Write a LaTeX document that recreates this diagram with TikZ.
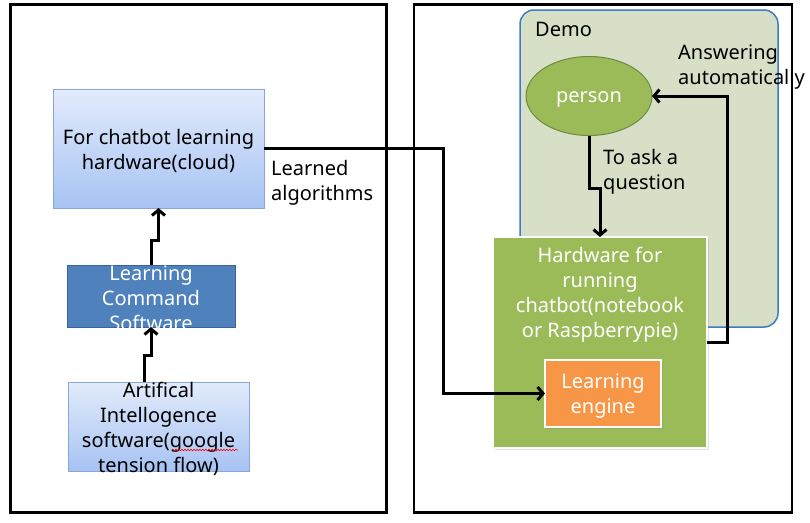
\documentclass[tikz,border=0pt]{standalone}
\usepackage{fontspec}
\setmainfont{Noto Sans}
\usetikzlibrary{arrows.meta,shapes.geometric,decorations.pathmorphing,shadows}
\definecolor{bluetop}{HTML}{E2EBFB}
\definecolor{bluebot}{HTML}{A7C3F3}
\definecolor{blueedge}{HTML}{8AA6D6}
\definecolor{lcsfill}{HTML}{4F81BD}
\definecolor{lcsedge}{HTML}{3A6495}
\definecolor{demofill}{HTML}{D7DFC6}
\definecolor{demoedge}{HTML}{3B7DC1}
\definecolor{greenfill}{HTML}{9BBB59}
\definecolor{greenedge}{HTML}{71893F}
\definecolor{orangefill}{HTML}{F79646}
\begin{document}
\begin{tikzpicture}[x=1pt,y=-1pt,
  frame/.style={draw=black,line width=2.5pt,inner sep=0pt,outer sep=0pt},
  bluebox/.style={draw=blueedge,line width=1pt,top color=bluetop,bottom color=bluebot,inner sep=0pt,outer sep=0pt},
  darkbox/.style={draw=lcsedge,line width=1pt,fill=lcsfill,inner sep=0pt,outer sep=0pt},
  txt/.style={inner sep=0pt,align=center,yshift=-2pt,font=\fontsize{20}{25}\selectfont},
  ltxt/.style={inner sep=0pt,align=left,anchor=west,yshift=-2pt,font=\fontsize{20}{25}\selectfont},
  arr/.style={line width=3pt,-{Straight Barb[length=5.5pt,width=13pt]}}]
\useasboundingbox (0,0) rectangle (810,522);

% outer frames
\node[frame,minimum width=376pt,minimum height=508pt] (leftframe) at (198.5,258.5) {};
\node[frame,minimum width=378pt,minimum height=508pt] (rightframe) at (603,258.5) {};

% left side boxes
\node[bluebox,minimum width=211pt,minimum height=119pt] (cloud) at (158.5,148.5) {};
\node[txt] (cloudtxt) at (158.5,149) {For chatbot learning\\hardware(cloud)};

\node[darkbox,minimum width=168pt,minimum height=62pt] (lcs) at (151,296) {};
\node[txt,text=white] (lcstxt) at (151,296.5) {Learning\\Command\\Software};

\node[bluebox,minimum width=181pt,minimum height=89pt] (ai) at (158.5,426.5) {};
\node[txt] (aitxt) at (158.5,426.5) {Artifical\\Intellogence\\software(google\\tension flow)};
\draw[red,line width=0.6pt,decorate,decoration={snake,segment length=3pt,amplitude=0.8pt}] (172,450) -- (238,450);

\node[ltxt] (learned) at (271,181) {Learned\\algorithms};

% right side
\node[draw=demoedge,line width=1.5pt,fill=demofill,rounded corners=14pt,minimum width=258pt,minimum height=317pt,inner sep=0pt,outer sep=0pt] (demo) at (649,168.5) {};
\node[ltxt] (demotxt) at (535,27) {Demo};

\node[ellipse,draw=greenedge,line width=1pt,fill=greenfill,minimum width=126pt,minimum height=79pt,inner sep=0pt,outer sep=0pt] (person) at (589,96) {};
\node[txt,text=white] (persontxt) at (589,97) {person};

\node[draw=white,line width=2.5pt,fill=greenfill,minimum width=214pt,minimum height=211pt,inner sep=0pt,outer sep=0pt,drop shadow={shadow xshift=1.5pt,shadow yshift=-1.5pt,opacity=0.25}] (hw) at (600,342.5) {};
\node[txt,text=white] (hwtxt) at (600,292.5) {Hardware for\\running\\chatbot(notebook\\or Raspberrypie)};

\node[draw=white,line width=2.5pt,fill=orangefill,minimum width=116pt,minimum height=67pt,inner sep=0pt,outer sep=0pt,drop shadow={shadow xshift=1.5pt,shadow yshift=-1.5pt,opacity=0.25}] (engine) at (603,393.5) {};
\node[txt,text=white] (enginetxt) at (603,394) {Learning\\engine};

\node[ltxt] (asktxt) at (603,169.5) {To ask a\\question};
\node[ltxt] (answertxt) at (678,65.5) {Answering\\automatically};

% connectors
\draw[arr] ([xshift=-14.5pt]ai.north) -- ++(0,-27) -| (lcs.south);
\draw[arr] (lcs.north) -- ++(0,-25) -| (cloud.south);
\draw[arr] (cloud.east) -- ++(179,0) |- (engine.west);
\draw[arr] (person.south) -- ++(0,53) -| (hw.north);
\draw[arr] (hw.east) -- ++(20,0) |- (person.east);
\end{tikzpicture}
\end{document}
